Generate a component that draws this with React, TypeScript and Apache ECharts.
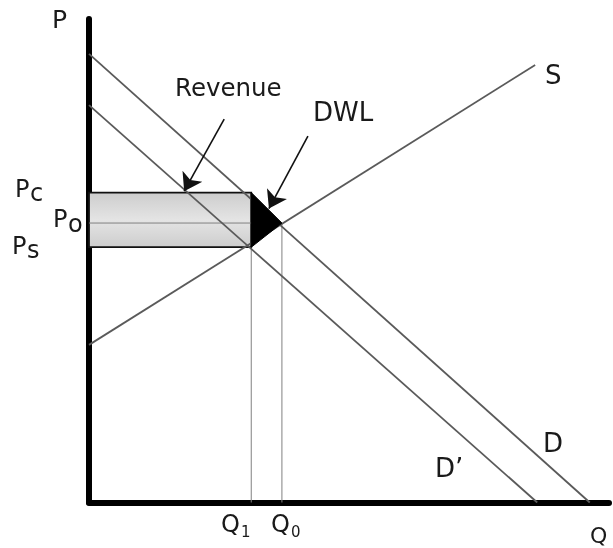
import React, { useEffect, useRef } from "react";
import * as echarts from "echarts";

// Curves (Q, P) endpoints in data units (0..100)
const demandD: number[][] = [[0, 92.8], [96.3, 0]];
const demandDPrime: number[][] = [[0, 82.2], [86.2, 0]];
const supplyS: number[][] = [[0, 32.6], [85.8, 90.5]];

// Key quantities / prices
const Q1 = 31.2;
const Q0 = 37.1;
const Pc = 64.1;
const Po = 57.8;
const Ps = 52.8;

// Annotation arrows [start, end]
const revenueArrow: number[][] = [[26.0, 79.3], [18.3, 64.4]];
const dwlArrow: number[][] = [[42.1, 75.8], [34.6, 60.8]];

const FONT = "DejaVu Sans";
const TXT = "#1a1a1a";

function txt(text: string, x: number, y: number, size: number) {
  return {
    type: "text",
    style: {
      text,
      x,
      y,
      fill: TXT,
      font: `${size}px "${FONT}"`,
      textAlign: "left",
      textVerticalAlign: "middle",
    },
    z: 10,
  };
}

export default function App() {
  const ref = useRef<HTMLDivElement>(null);
  useEffect(() => {
    if (!ref.current) return;
    const chart = echarts.init(ref.current, undefined, { renderer: "svg" });
    const lineStyle = { color: "#5a5a5a", width: 1.8 };
    const guideStyle = { color: "#808080", width: 1 };
    const mkLine = (data: number[][], style: any, z: number) => ({
      type: "line",
      data,
      symbol: "none",
      lineStyle: style,
      z,
      silent: true,
    });
    chart.setOption({
      animation: false,
      grid: { left: 89, top: 19, width: 520, height: 483.5 },
      xAxis: {
        type: "value",
        min: 0,
        max: 100,
        axisLine: { show: true, onZero: false, lineStyle: { color: "#000", width: 6 } },
        axisTick: { show: false },
        axisLabel: { show: false },
        splitLine: { show: false },
      },
      yAxis: {
        type: "value",
        min: 0,
        max: 100,
        axisLine: { show: true, onZero: false, lineStyle: { color: "#000", width: 6 } },
        axisTick: { show: false },
        axisLabel: { show: false },
        splitLine: { show: false },
      },
      series: [
        {
          type: "custom",
          z: 1,
          data: [[0, Pc, Q1, Ps]],
          renderItem: (params: any, api: any) => {
            const a = api.coord([api.value(0), api.value(1)]);
            const b = api.coord([api.value(2), api.value(3)]);
            return {
              type: "rect",
              shape: { x: a[0], y: a[1], width: b[0] - a[0], height: b[1] - a[1] },
              style: {
                fill: new echarts.graphic.LinearGradient(0, 0, 0, 1, [
                  { offset: 0, color: "#cdcdcd" },
                  { offset: 0.5, color: "#e4e4e4" },
                  { offset: 1, color: "#cdcdcd" },
                ]),
                stroke: "#111",
                lineWidth: 1.8,
              },
            };
          },
        },
        mkLine([[0, Po], [Q0, Po]], guideStyle, 2),
        mkLine([[Q0, Po], [Q0, 0]], guideStyle, 2),
        mkLine([[Q1, Ps], [Q1, 0]], guideStyle, 2),
        mkLine(demandD, lineStyle, 3),
        mkLine(demandDPrime, lineStyle, 3),
        mkLine(supplyS, lineStyle, 3),
        {
          type: "custom",
          z: 4,
          data: [[Q1, Pc, Q0, Po, Q1, Ps]],
          renderItem: (params: any, api: any) => {
            const p1 = api.coord([api.value(0), api.value(1)]);
            const p2 = api.coord([api.value(2), api.value(3)]);
            const p3 = api.coord([api.value(4), api.value(5)]);
            return {
              type: "polygon",
              shape: { points: [p1, p2, p3] },
              style: { fill: "#000", stroke: "#000", lineWidth: 1 },
            };
          },
        },
        {
          type: "lines",
          coordinateSystem: "cartesian2d",
          z: 5,
          symbol: ["none", "arrow"],
          symbolSize: [14, 17],
          lineStyle: { color: "#111", width: 1.6, opacity: 1 },
          data: [{ coords: revenueArrow }, { coords: dwlArrow }],
        },
      ],
      graphic: [
        txt("P", 52, 19, 25),
        txt("P", 15, 189, 24),
        txt("c", 30, 193, 24),
        txt("P", 53, 219, 24),
        txt("o", 68, 224, 24),
        txt("P", 12, 246, 24),
        txt("s", 27, 250, 24),
        txt("Q", 221, 524, 24),
        txt("1", 241, 532, 15),
        txt("Q", 271, 524, 24),
        txt("0", 291, 532, 15),
        txt("Q", 590, 535, 22),
        txt("D\u2019", 435, 468, 26),
        txt("D", 543, 443, 26),
        txt("S", 545, 75, 26),
        txt("Revenue", 175, 87, 24.5),
        txt("DWL", 313, 112, 26),
      ],
    });
    return () => chart.dispose();
  }, []);
  return (
    <div
      ref={ref}
      style={{ position: "fixed", left: 0, top: 0, width: 613, height: 548 }}
    />
  );
}
